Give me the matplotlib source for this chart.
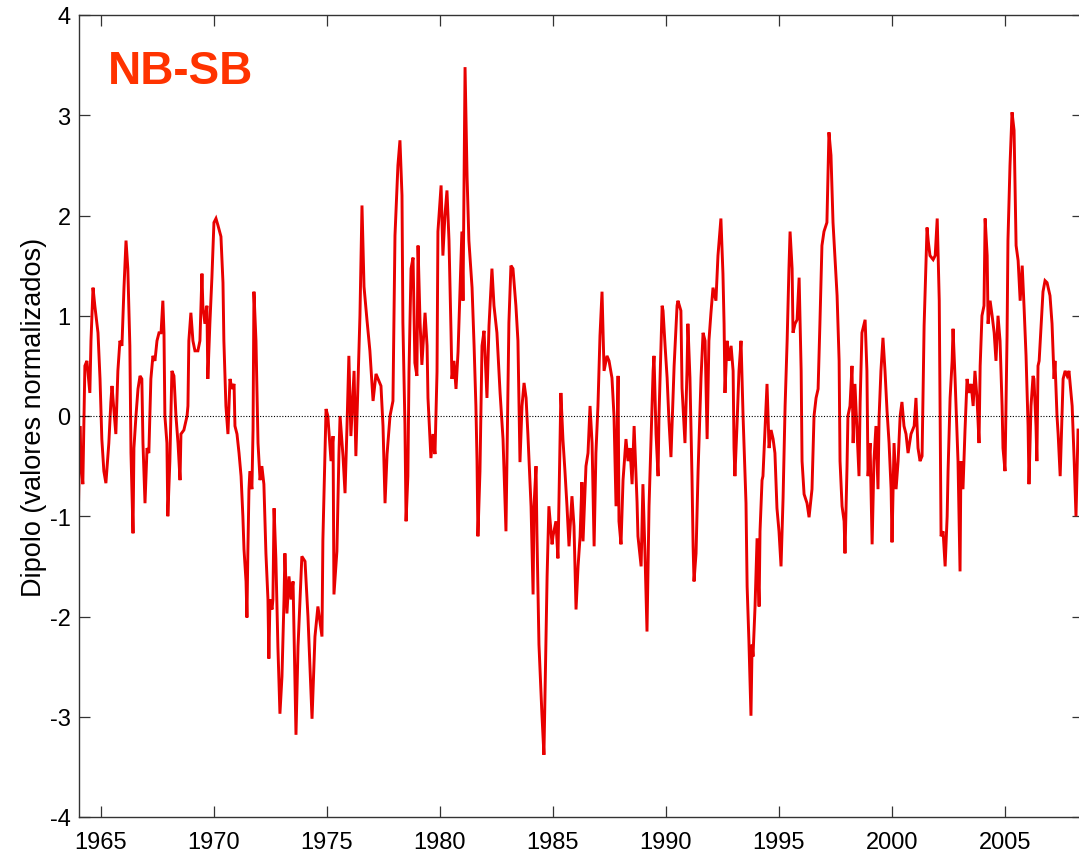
import matplotlib
matplotlib.use('Agg')
import matplotlib.pyplot as plt

plt.rcParams['font.family'] = ['Liberation Sans', 'DejaVu Sans']

# Decimal years and normalized dipole values
years = [
    1963.98, 1964.07, 1964.12, 1964.20, 1964.29, 1964.38, 1964.51, 1964.56, 1964.65, 1964.73,
    1964.87, 1964.96, 1965.04, 1965.13, 1965.22, 1965.35, 1965.44, 1965.49, 1965.58, 1965.66,
    1965.75, 1965.84, 1965.93, 1966.02, 1966.11, 1966.19, 1966.28, 1966.33, 1966.42, 1966.46,
    1966.55, 1966.64, 1966.73, 1966.81, 1966.86, 1966.95, 1967.04, 1967.12, 1967.21, 1967.30,
    1967.39, 1967.48, 1967.57, 1967.66, 1967.74, 1967.79, 1967.83, 1967.92, 1967.96, 1968.05,
    1968.14, 1968.23, 1968.32, 1968.41, 1968.50, 1968.54, 1968.67, 1968.81, 1968.85, 1968.89,
    1968.98, 1969.07, 1969.16, 1969.29, 1969.38, 1969.47, 1969.51, 1969.60, 1969.69, 1969.73,
    1969.82, 1969.91, 1970.00, 1970.09, 1970.18, 1970.31, 1970.40, 1970.44, 1970.53, 1970.62,
    1970.71, 1970.80, 1970.89, 1970.93, 1971.02, 1971.11, 1971.20, 1971.28, 1971.33, 1971.42,
    1971.46, 1971.50, 1971.55, 1971.59, 1971.68, 1971.73, 1971.77, 1971.86, 1971.95, 1972.04,
    1972.12, 1972.21, 1972.30, 1972.39, 1972.43, 1972.48, 1972.57, 1972.61, 1972.66, 1972.74,
    1972.83, 1972.92, 1973.01, 1973.10, 1973.14, 1973.23, 1973.32, 1973.41, 1973.50, 1973.63,
    1973.72, 1973.89, 1974.03, 1974.16, 1974.34, 1974.47, 1974.60, 1974.78, 1974.82, 1974.96,
    1975.04, 1975.18, 1975.27, 1975.31, 1975.44, 1975.53, 1975.58, 1975.71, 1975.80, 1975.89,
    1975.97, 1976.06, 1976.20, 1976.28, 1976.37, 1976.46, 1976.55, 1976.64, 1976.77, 1976.90,
    1977.04, 1977.17, 1977.39, 1977.48, 1977.57, 1977.66, 1977.79, 1977.92, 1978.01, 1978.14,
    1978.23, 1978.32, 1978.36, 1978.45, 1978.50, 1978.58, 1978.63, 1978.72, 1978.81, 1978.89,
    1978.98, 1979.03, 1979.12, 1979.20, 1979.34, 1979.43, 1979.47, 1979.60, 1979.69, 1979.78,
    1979.87, 1979.91, 1980.05, 1980.13, 1980.22, 1980.31, 1980.40, 1980.49, 1980.53, 1980.62,
    1980.71, 1980.80, 1980.89, 1980.97, 1981.02, 1981.11, 1981.20, 1981.28, 1981.42, 1981.51,
    1981.59, 1981.64, 1981.68, 1981.77, 1981.86, 1981.95, 1982.08, 1982.17, 1982.30, 1982.39,
    1982.52, 1982.66, 1982.79, 1982.92, 1982.97, 1983.05, 1983.14, 1983.23, 1983.36, 1983.45,
    1983.54, 1983.63, 1983.72, 1983.81, 1983.89, 1984.03, 1984.12, 1984.16, 1984.25, 1984.29,
    1984.38, 1984.51, 1984.60, 1984.69, 1984.74, 1984.82, 1984.96, 1985.00, 1985.13, 1985.22,
    1985.35, 1985.44, 1985.53, 1985.62, 1985.71, 1985.84, 1985.93, 1986.02, 1986.11, 1986.20,
    1986.28, 1986.33, 1986.46, 1986.55, 1986.64, 1986.73, 1986.82, 1986.90, 1986.99, 1987.08,
    1987.17, 1987.26, 1987.39, 1987.48, 1987.61, 1987.70, 1987.79, 1987.88, 1987.92, 1988.01,
    1988.10, 1988.23, 1988.32, 1988.41, 1988.50, 1988.59, 1988.72, 1988.76, 1988.90, 1988.98,
    1989.07, 1989.16, 1989.25, 1989.34, 1989.43, 1989.47, 1989.56, 1989.65, 1989.69, 1989.83,
    1989.87, 1989.96, 1990.05, 1990.13, 1990.22, 1990.31, 1990.36, 1990.49, 1990.53, 1990.66,
    1990.71, 1990.84, 1990.93, 1990.97, 1991.06, 1991.15, 1991.20, 1991.24, 1991.33, 1991.42,
    1991.55, 1991.64, 1991.73, 1991.82, 1991.90, 1991.99, 1992.08, 1992.21, 1992.30, 1992.43,
    1992.52, 1992.57, 1992.61, 1992.70, 1992.79, 1992.88, 1992.97, 1993.01, 1993.05, 1993.14,
    1993.23, 1993.32, 1993.41, 1993.45, 1993.54, 1993.59, 1993.67, 1993.76, 1993.81, 1993.85,
    1993.94, 1994.03, 1994.12, 1994.16, 1994.25, 1994.29, 1994.38, 1994.47, 1994.56, 1994.65,
    1994.74, 1994.82, 1994.91, 1995.00, 1995.09, 1995.18, 1995.27, 1995.36, 1995.44, 1995.49,
    1995.58, 1995.62, 1995.71, 1995.80, 1995.89, 1995.98, 1996.02, 1996.11, 1996.24, 1996.33,
    1996.46, 1996.55, 1996.64, 1996.73, 1996.81, 1996.90, 1996.99, 1997.12, 1997.21, 1997.30,
    1997.39, 1997.48, 1997.57, 1997.66, 1997.70, 1997.79, 1997.88, 1997.92, 1998.01, 1998.05,
    1998.14, 1998.23, 1998.28, 1998.36, 1998.45, 1998.54, 1998.59, 1998.67, 1998.81, 1998.89,
    1998.94, 1999.03, 1999.12, 1999.20, 1999.29, 1999.38, 1999.43, 1999.51, 1999.60, 1999.69,
    1999.78, 1999.87, 1999.96, 2000.00, 2000.09, 2000.18, 2000.27, 2000.36, 2000.44, 2000.53,
    2000.62, 2000.71, 2000.84, 2000.98, 2001.06, 2001.15, 2001.24, 2001.33, 2001.42, 2001.55,
    2001.60, 2001.68, 2001.82, 2001.91, 2002.00, 2002.09, 2002.13, 2002.17, 2002.26, 2002.35,
    2002.44, 2002.48, 2002.57, 2002.66, 2002.70, 2002.79, 2002.88, 2002.92, 2003.01, 2003.05,
    2003.14, 2003.23, 2003.32, 2003.41, 2003.50, 2003.59, 2003.67, 2003.76, 2003.85, 2003.90,
    2003.98, 2004.07, 2004.12, 2004.21, 2004.25, 2004.34, 2004.43, 2004.52, 2004.60, 2004.69,
    2004.78, 2004.87, 2004.91, 2005.00, 2005.09, 2005.13, 2005.22, 2005.31, 2005.40, 2005.49,
    2005.58, 2005.67, 2005.76, 2005.84, 2005.93, 2006.02, 2006.06, 2006.15, 2006.24, 2006.28,
    2006.37, 2006.41, 2006.46, 2006.51, 2006.60, 2006.68, 2006.77, 2006.86, 2006.99, 2007.08,
    2007.17, 2007.21, 2007.30, 2007.35, 2007.44, 2007.52, 2007.57, 2007.66, 2007.75, 2007.83,
    2007.97, 2008.06, 2008.14, 2008.23,
]

values = [
    -1.24, -0.10, -0.45, -0.68, 0.50, 0.55, 0.23, 0.75, 1.28, 1.10,
    0.83, 0.37, -0.23, -0.55, -0.67, -0.27, 0.14, 0.30, 0.05, -0.18,
    0.45, 0.75, 0.70, 1.28, 1.75, 1.47, 0.70, -0.37, -1.17, -0.32,
    0.00, 0.27, 0.40, 0.37, -0.27, -0.87, -0.32, -0.37, 0.37, 0.60,
    0.55, 0.75, 0.83, 0.83, 1.15, 0.83, 0.00, -0.27, -1.00, -0.45,
    0.45, 0.40, 0.00, -0.27, -0.64, -0.18, -0.14, 0.00, 0.10, 0.75,
    1.03, 0.75, 0.65, 0.65, 0.75, 1.42, 1.10, 0.92, 1.10, 0.37,
    0.92, 1.38, 1.93, 1.97, 1.90, 1.79, 1.33, 0.75, 0.10, -0.18,
    0.37, 0.27, 0.32, -0.10, -0.18, -0.37, -0.60, -1.00, -1.33, -1.65,
    -2.01, -1.37, -0.73, -0.55, -0.73, -0.14, 1.24, 0.75, -0.27, -0.64,
    -0.50, -0.68, -1.37, -1.83, -2.42, -1.83, -1.93, -1.83, -0.92, -1.42,
    -2.30, -2.97, -2.60, -1.83, -1.37, -1.97, -1.60, -1.83, -1.65, -3.18,
    -2.30, -1.40, -1.45, -2.00, -3.02, -2.20, -1.90, -2.20, -1.24, 0.07,
    0.00, -0.45, -0.20, -1.78, -1.35, -0.38, 0.00, -0.40, -0.77, -0.08,
    0.60, -0.20, 0.45, -0.40, 0.30, 1.00, 2.10, 1.29, 0.96, 0.65,
    0.15, 0.42, 0.30, -0.10, -0.87, -0.38, 0.00, 0.15, 1.80, 2.50,
    2.75, 2.20, 0.93, -0.08, -1.05, -0.60, 0.44, 1.47, 1.58, 0.53,
    0.40, 1.70, 0.93, 0.51, 1.03, 0.70, 0.18, -0.42, -0.18, -0.38,
    0.44, 1.84, 2.30, 1.60, 2.00, 2.25, 1.75, 0.83, 0.37, 0.55,
    0.27, 0.64, 1.28, 1.84, 1.15, 3.48, 2.38, 1.75, 1.28, 0.70,
    0.10, -0.45, -1.20, -0.55, 0.70, 0.85, 0.18, 0.90, 1.47, 1.10,
    0.83, 0.23, -0.23, -1.15, -0.32, 0.93, 1.50, 1.47, 1.10, 0.75,
    -0.46, 0.10, 0.33, 0.18, -0.18, -0.90, -1.78, -0.90, -0.50, -1.17,
    -2.28, -2.97, -3.38, -2.20, -1.60, -0.90, -1.28, -1.20, -1.05, -1.42,
    0.23, -0.23, -0.55, -0.90, -1.30, -0.80, -1.10, -1.93, -1.50, -1.20,
    -0.66, -1.25, -0.50, -0.37, 0.10, -0.27, -1.30, -0.37, 0.10, 0.80,
    1.24, 0.45, 0.60, 0.55, 0.38, 0.00, -0.90, 0.40, -1.05, -1.28,
    -0.64, -0.23, -0.45, -0.32, -0.68, -0.10, -0.86, -1.20, -1.50, -0.68,
    -1.37, -2.15, -0.90, -0.23, 0.45, 0.60, -0.18, -0.60, 0.00, 1.10,
    1.05, 0.70, 0.38, -0.04, -0.41, 0.18, 0.50, 1.10, 1.15, 1.05,
    0.28, -0.27, 0.45, 0.92, 0.38, -0.60, -1.30, -1.65, -1.37, -0.55,
    0.38, 0.83, 0.75, -0.23, 0.75, 1.03, 1.28, 1.15, 1.60, 1.97,
    1.42, 0.92, 0.23, 0.75, 0.55, 0.70, 0.45, -0.32, -0.60, -0.10,
    0.45, 0.75, 0.00, -0.27, -0.87, -1.70, -2.25, -2.99, -2.28, -2.40,
    -1.90, -1.22, -1.90, -1.15, -0.64, -0.60, -0.14, 0.32, -0.32, -0.14,
    -0.23, -0.37, -0.92, -1.15, -1.50, -0.82, 0.10, 0.75, 1.47, 1.84,
    1.47, 0.83, 0.92, 0.96, 1.38, 0.45, -0.45, -0.78, -0.87, -1.01,
    -0.73, 0.00, 0.18, 0.27, 0.92, 1.70, 1.84, 1.93, 2.83, 2.60,
    1.93, 1.56, 1.20, 0.55, -0.45, -0.90, -1.05, -1.37, -0.50, 0.00,
    0.10, 0.50, -0.27, 0.32, -0.14, -0.60, 0.14, 0.83, 0.96, 0.45,
    -0.60, -0.27, -1.28, -0.45, -0.10, -0.73, 0.00, 0.45, 0.78, 0.45,
    0.05, -0.27, -0.73, -1.26, -0.27, -0.73, -0.45, 0.00, 0.14, -0.10,
    -0.18, -0.37, -0.18, -0.10, 0.18, -0.32, -0.45, -0.40, 0.90, 1.88,
    1.75, 1.60, 1.56, 1.60, 1.97, 1.15, 0.00, -1.20, -1.15, -1.50,
    -1.00, -0.55, 0.18, 0.55, 0.87, 0.37, -0.18, -0.45, -1.55, -0.45,
    -0.73, -0.14, 0.37, 0.23, 0.32, 0.10, 0.45, 0.18, -0.27, 0.50,
    1.00, 1.10, 1.97, 1.60, 0.92, 1.15, 1.00, 0.83, 0.55, 1.00,
    0.75, 0.10, -0.32, -0.55, 0.80, 1.75, 2.50, 3.03, 2.85, 1.70,
    1.55, 1.15, 1.50, 1.10, 0.60, -0.10, -0.68, 0.10, 0.40, 0.37,
    -0.10, -0.45, 0.50, 0.55, 0.92, 1.24, 1.35, 1.33, 1.20, 0.92,
    0.37, 0.55, 0.00, -0.18, -0.60, 0.00, 0.37, 0.45, 0.40, 0.45,
    0.10, -0.45, -1.00, -0.14,
]

xtick_years = [1965, 1970, 1975, 1980, 1985, 1990, 1995, 2000, 2005]
ytick_values = [-4, -3, -2, -1, 0, 1, 2, 3, 4]
series_label = 'NB-SB'
y_label = 'Dipolo (valores normalizados)'

fig = plt.figure(figsize=(10.79, 8.62), dpi=100)
ax = fig.add_axes([79 / 1079, 44 / 862, 1004 / 1079, 802 / 862])

ax.plot(years, values, color='#E80000', lw=2.1, solid_joinstyle='miter')
ax.axhline(0, color='black', ls=(0, (1, 1.5)), lw=0.8)

ax.set_xlim(1964.03, 2008.45)
ax.set_ylim(-4, 4)
ax.set_xticks(xtick_years)
ax.set_xticklabels([str(y) for y in xtick_years])
ax.set_yticks(ytick_values)
ax.set_yticklabels([str(v) for v in ytick_values])

ax.tick_params(axis='both', direction='in', length=8, width=0.9, color='#333333',
               labelsize=17, top=True, right=True)
ax.tick_params(axis='x', pad=10)
ax.tick_params(axis='y', pad=6)
for sp in ax.spines.values():
    sp.set_color('#333333')
    sp.set_linewidth(1.0)

ax.set_ylabel(y_label, fontsize=19.5, labelpad=2)

ax.text(0.029, 0.93, series_label, transform=ax.transAxes, color='#FF3300',
        fontsize=33, fontweight='bold', ha='left', va='center')

fig.savefig('out.png', dpi=100)
